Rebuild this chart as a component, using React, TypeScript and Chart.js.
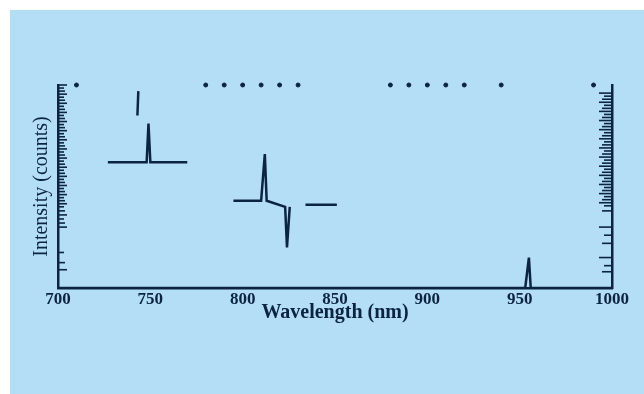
import React, { useEffect, useRef } from "react";
import { Chart, registerables } from "chart.js";

Chart.register(...registerables);

// ---- data ----
const xTickLabels = ["700", "750", "800", "850", "900", "950", "1000"];
const xMin = 700;
const xMax = 1000;
const yMin = 0;
const yMax = 100;

// spectrum trace (null = break)
const spectrumWavelength = [
  727, 748, 749, 750, 770, null,
  743, 743.5, null,
  795, 810, 812, 813, 823, 824, 825.5, null,
  834, 851, null,
  700, 953, 955, 956, 1000,
];
const spectrumIntensity = [
  62, 62, 81, 62, 62, null,
  85, 97, null,
  43, 43, 66, 43, 40, 20, 40, null,
  41, 41, null,
  0, 0, 15, 0, 0,
];

// marker row along the top edge
const markerWavelength = [710, 780, 790, 800, 810, 820, 830, 880, 890, 900, 910, 920, 940, 990];
const markerIntensity = [100, 100, 100, 100, 100, 100, 100, 100, 100, 100, 100, 100, 100, 100];

// inward tick combs on left / right axes (intensity values)
const leftCombValues = [
  100, 98.5, 97, 95.5, 94, 92.5, 91, 89.5, 88, 86.5, 85, 83.5, 82, 80.5, 79, 77.5,
  76, 74.5, 73, 71.5, 70, 68.5, 67, 65.5, 64, 62.5, 61, 59.5, 58, 56.5, 55, 53.5,
  52, 50.5, 49, 47.5, 46, 44.5, 43, 41.5, 40, 38, 36, 34, 32, 30, 17.5, 12.5, 9,
];
const rightCombValues = [
  96, 94.5, 93, 91.5, 90, 88.5, 87, 85.5, 84, 82.5, 81, 79.5, 78, 76.5, 75, 73.5,
  72, 70.5, 69, 67.5, 66, 64.5, 63, 61.5, 60, 58.5, 57, 55.5, 54, 52.5, 51, 49.5,
  48, 46.5, 45, 43.5, 42, 40.5, 38, 30, 26, 22, 15, 11, 8,
];

const INK = "#0d2440";
const BG = "#b3def5";
const SERIF = "'Liberation Serif', 'Times New Roman', serif";

const combPlugin = {
  id: "combs",
  afterDatasetsDraw(chart: any) {
    const { ctx, chartArea, scales } = chart;
    const y = scales.y;
    ctx.save();
    ctx.strokeStyle = INK;
    ctx.lineWidth = 1.6;
    leftCombValues.forEach((v, i) => {
      const py = y.getPixelForValue(v);
      const len = i % 3 === 0 ? 9 : i % 3 === 1 ? 6 : 7;
      ctx.beginPath();
      ctx.moveTo(chartArea.left, py);
      ctx.lineTo(chartArea.left + len, py);
      ctx.stroke();
    });
    rightCombValues.forEach((v, i) => {
      const py = y.getPixelForValue(v);
      const len = i % 3 === 0 ? 13 : i % 3 === 1 ? 8 : 10;
      ctx.beginPath();
      ctx.moveTo(chartArea.right, py);
      ctx.lineTo(chartArea.right - len, py);
      ctx.stroke();
    });
    ctx.restore();
  },
};

export default function App() {
  const ref = useRef<HTMLCanvasElement | null>(null);

  useEffect(() => {
    if (!ref.current) return;
    const spectrum = spectrumWavelength.map((x, i) =>
      x === null ? { x: NaN, y: NaN } : { x, y: spectrumIntensity[i] as number }
    );
    const markers = markerWavelength.map((x, i) => ({ x, y: markerIntensity[i] }));

    const chart = new Chart(ref.current, {
      type: "scatter",
      data: {
        datasets: [
          {
            label: "Spectrum",
            data: spectrum as any,
            showLine: true,
            spanGaps: false,
            borderColor: INK,
            borderWidth: 2.5,
            pointRadius: 0,
            tension: 0,
          },
          {
            label: "Markers",
            data: markers,
            showLine: false,
            pointRadius: 2,
            pointBackgroundColor: INK,
            pointBorderColor: INK,
            clip: false as any,
          },
        ],
      },
      options: {
        animation: false,
        responsive: false,
        layout: { padding: { left: 16, top: 75, right: 32, bottom: 65 } },
        plugins: {
          legend: { display: false },
          tooltip: { enabled: false },
        },
        scales: {
          x: {
            type: "linear",
            min: xMin,
            max: xMax,
            afterBuildTicks: (scale: any) => {
              scale.ticks = xTickLabels.map((t) => ({ value: Number(t) }));
            },
            afterFit: (scale: any) => {
              scale.height = 41;
            },
            grid: { display: false, drawTicks: false },
            border: { display: true, color: INK, width: 2.5 },
            ticks: {
              color: INK,
              padding: 1,
              maxRotation: 0,
              autoSkip: false,
              font: { family: SERIF, size: 17, weight: "bold" },
              callback: (v: any) => String(v),
            },
            title: {
              display: true,
              text: "Wavelength (nm)",
              color: INK,
              font: { family: SERIF, size: 20, weight: "bold" },
              padding: { top: 0, bottom: 4 },
            },
          },
          y: {
            type: "linear",
            position: "left",
            min: yMin,
            max: yMax,
            afterFit: (scale: any) => {
              scale.width = 32;
            },
            grid: { display: false, drawTicks: false },
            border: { display: true, color: INK, width: 2.5 },
            ticks: { display: false },
            title: {
              display: true,
              text: "Intensity (counts)",
              color: INK,
              font: { family: SERIF, size: 20 },
              padding: { top: 4, bottom: 0 },
            },
          },
          y2: {
            type: "linear",
            position: "right",
            min: yMin,
            max: yMax,
            afterFit: (scale: any) => {
              scale.width = 0;
            },
            grid: { display: false, drawTicks: false },
            border: { display: true, color: INK, width: 2.5 },
            ticks: { display: false },
          },
        },
      },
      plugins: [combPlugin],
    });
    return () => chart.destroy();
  }, []);

  return (
    <div
      style={{
        position: "fixed",
        left: 10,
        top: 10,
        right: 0,
        bottom: 0,
        background: BG,
      }}
    >
      <canvas ref={ref} width={634} height={384} style={{ display: "block" }} />
    </div>
  );
}
